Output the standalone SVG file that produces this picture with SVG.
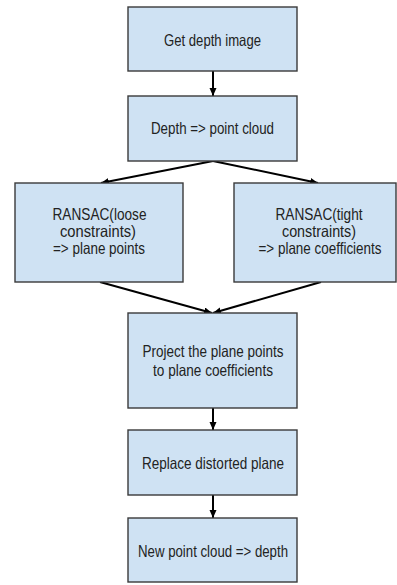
<svg xmlns="http://www.w3.org/2000/svg" width="397" height="585" viewBox="0 0 397 585">
  <style>
    .box { fill: #cfe2f3; stroke: #3a3a3a; stroke-width: 1.4; }
    .lbl { font-family: "Liberation Sans", Arial, sans-serif; font-size: 16.5px; fill: #222; text-anchor: middle; }
    .edge { stroke: #000; stroke-width: 2; fill: none; marker-end: url(#arrow); }
  </style>
  <defs>
    <marker id="arrow" markerUnits="userSpaceOnUse" markerWidth="9" markerHeight="8" refX="8" refY="3.5" orient="auto">
      <path d="M0,0 L8,3.5 L0,7 z" fill="#000"/>
    </marker>
  </defs>

  <rect width="397" height="585" fill="#fff"/>

  <!-- connectors -->
  <g id="connectors">
    <line class="edge" x1="213" y1="71" x2="213" y2="96"/>
    <line class="edge" x1="213" y1="161" x2="101" y2="183"/>
    <line class="edge" x1="213" y1="161" x2="318" y2="183"/>
    <line class="edge" x1="100" y1="282" x2="212" y2="313"/>
    <line class="edge" x1="321" y1="282" x2="213" y2="313"/>
    <line class="edge" x1="213" y1="408" x2="213" y2="430"/>
    <line class="edge" x1="213" y1="495" x2="213" y2="518"/>
  </g>

  <g id="get-depth">
    <rect class="box" x="128" y="7" width="169" height="64"/>
    <text class="lbl" x="212.5" y="46" textLength="97" lengthAdjust="spacingAndGlyphs">Get depth image</text>
  </g>

  <g id="depth-to-cloud">
    <rect class="box" x="128" y="96" width="169" height="65"/>
    <text class="lbl" x="212.5" y="133.5" textLength="123" lengthAdjust="spacingAndGlyphs">Depth =&gt; point cloud</text>
  </g>

  <g id="ransac-loose">
    <rect class="box" x="15" y="183" width="168" height="99"/>
    <text class="lbl" x="99.5" y="219.5" textLength="94" lengthAdjust="spacingAndGlyphs">RANSAC(loose</text>
    <text class="lbl" x="98" y="236.5" textLength="76" lengthAdjust="spacingAndGlyphs">constraints)</text>
    <text class="lbl" x="99" y="253.5" textLength="92" lengthAdjust="spacingAndGlyphs">=&gt; plane points</text>
  </g>

  <g id="ransac-tight">
    <rect class="box" x="234" y="183" width="162" height="99"/>
    <text class="lbl" x="319" y="219.5" textLength="87" lengthAdjust="spacingAndGlyphs">RANSAC(tight</text>
    <text class="lbl" x="319" y="236.5" textLength="74" lengthAdjust="spacingAndGlyphs">constraints)</text>
    <text class="lbl" x="320" y="253.5" textLength="123" lengthAdjust="spacingAndGlyphs">=&gt; plane coefficients</text>
  </g>

  <g id="project-points">
    <rect class="box" x="128" y="313" width="169" height="95"/>
    <text class="lbl" x="213" y="356.5" textLength="141" lengthAdjust="spacingAndGlyphs">Project the plane points</text>
    <text class="lbl" x="213" y="375.5" textLength="120" lengthAdjust="spacingAndGlyphs">to plane coefficients</text>
  </g>

  <g id="replace-plane">
    <rect class="box" x="128" y="430" width="169" height="65"/>
    <text class="lbl" x="213" y="468.5" textLength="142" lengthAdjust="spacingAndGlyphs">Replace distorted plane</text>
  </g>

  <g id="cloud-to-depth">
    <rect class="box" x="128" y="518" width="169" height="64"/>
    <text class="lbl" x="213" y="557" textLength="150" lengthAdjust="spacingAndGlyphs">New point cloud =&gt; depth</text>
  </g>
</svg>
